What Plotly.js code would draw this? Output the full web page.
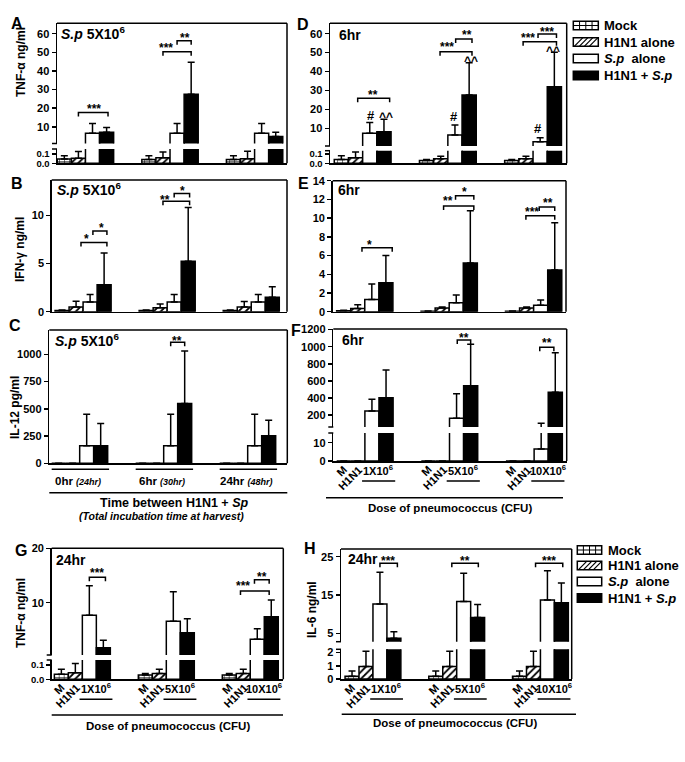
<!DOCTYPE html>
<html><head><meta charset="utf-8">
<script src="https://cdn.plot.ly/plotly-3.0.1.min.js"></script>
<style>body{margin:0;background:#fff}#chart{width:685px;height:762px}</style>
</head><body><div id="chart"></div>
<script>
// ---------------- DATA ----------------
const seriesNames = ['Mock', 'H1N1 alone', '<i>S.p</i>  alone', 'H1N1 + <i>S.p</i>'];
const times = ['0hr', '6hr', '24hr'];
const harvest = ['(24hr)', '(30hr)', '(48hr)'];
const doses = ['1X10<sup>6</sup>', '5X10<sup>6</sup>', '10X10<sup>6</sup>'];
const shortLabels = ['M', 'H1N1'];

// rows: Mock, H1N1 alone, S.p alone, H1N1+S.p ; columns: 3 groups ; *_top = mean + SD
const A_mean = [[0.045,0.04,0.04],[0.055,0.06,0.05],[6.5,6.5,6.5],[7,27.5,4.8]];
const A_top  = [[0.08,0.08,0.08],[0.125,0.12,0.13],[11.8,11.8,11.8],[9.6,44.7,7]];
const B_mean = [[0.12,0.12,0.12],[0.5,0.4,0.5],[1.0,1.0,1.0],[2.8,5.25,1.5]];
const B_top  = [[0.18,0.18,0.18],[1.1,0.8,1.05],[1.8,1.8,1.8],[6.1,10.85,2.6]];
const C_mean = [[0,0,0],[0,0,0],[160,160,160],[162,548,252]];
const C_top  = [[null,null,null],[null,null,null],[450,450,450],[365,1030,395]];
const D_mean = [[0.04,0.03,0.03],[0.06,0.05,0.05],[7.4,6.5,2.9],[8.2,27.6,32]];
const D_top  = [[0.08,0.04,0.04],[0.12,0.075,0.075],[13,11.8,5],[14.8,44.6,50.2]];
const E_mean = [[0.1,0.05,0.05],[0.35,0.4,0.4],[1.3,0.95,0.7],[3.1,5.2,4.45]];
const E_top  = [[0.15,0.08,0.08],[0.75,0.5,0.5],[2.95,1.78,1.25],[6.0,10.8,9.5]];
const F_mean = [[0,0,0],[0,0,0],[247,161,6.6],[403,543,466]];
const F_top  = [[null,null,null],[null,null,null],[384,449,103],[727,1028,929]];
const G_mean = [[0.035,0.03,0.03],[0.046,0.04,0.04],[7.7,6.6,3.3],[1.7,4.5,7.4]];
const G_top  = [[0.07,0.04,0.04],[0.11,0.07,0.07],[13.1,12,5.2],[3.1,7.05,10.5]];
const H_mean = [[0.2,0.2,0.2],[0.95,0.95,0.95],[12.65,13.3,13.7],[3.7,9.1,13]];
const H_top  = [[0.6,0.6,0.6],[2.1,2.1,2.1],[20.9,20.7,21.3],[5.4,12.5,18.1]];

// ---------------- LAYOUT / STYLE ----------------
const FONT = 'Arial, "Liberation Sans", Helvetica, sans-serif';
const W = 685, H = 762;
const X = p => p / W, Y = p => 1 - p / H;
const bold = (size) => ({family: FONT, size: size, color: '#000', weight: 'bold'});

const styles = [
  {color: '#fff', pattern: {shape: '+', fgcolor: '#000', bgcolor: '#fff', size: 5, solidity: 0.2}},
  {color: '#fff', pattern: {shape: '/', fgcolor: '#000', bgcolor: '#fff', size: 5, solidity: 0.35}},
  {color: '#fff'},
  {color: '#000'}
];

const panels = [
 {letter:'A', lp:[17,23], title:'<i>S.p</i> 5X10<sup>6</sup>', tp:[59,33], ytitle:'TNF-\u03b1 ng/ml', yp:[21,62],
  mean:A_mean, top:A_top, xd:[57,287], xr:[-0.02,16.3],
  segs:[{d:[23.3,143.5], r:[1.0,65.6], tv:[10,20,30,40,50,60]},
        {d:[149,163.3], r:[0,0.153], tv:[0,0.1], tt:['0.0','0.1']}],
  brackets:[[1.5,3.6,17.7],[7.5,9.5,50.3],[8.5,9.5,56.2]],
  stars:[['***',94,106],['***',165.7,45],['**',185.3,35]]},
 {letter:'B', lp:[17,184], title:'<i>S.p</i> 5X10<sup>6</sup>', tp:[55,189], ytitle:'IFN-\u03b3 ng/ml', yp:[20,250],
  mean:B_mean, top:B_top, xd:[51.7,287], xr:[-0.24,16.55],
  segs:[{d:[180,311.7], r:[0,13.7], tv:[0,5,10]}],
  brackets:[[1.85,3.7,7.2],[2.7,3.7,8.4],[7.7,9.6,11.5],[8.5,9.6,12.3]],
  stars:[['*',86,236],['*',101,225],['**',165,196.7],['*',182.3,188.3]]},
 {letter:'C', lp:[15,325], title:'<i>S.p</i> 5X10<sup>6</sup>', tp:[53,340], ytitle:'IL-12 pg/ml', yp:[15,408],
  mean:C_mean, top:C_top, xd:[49.3,287.3], xr:[-0.17,16.83],
  segs:[{d:[330,463.3], r:[0,1223], tv:[0,250,500,750,1000]}],
  brackets:[[8.5,9.5,1110]], stars:[['**',177.3,337.7]], times:true},
 {letter:'D', lp:[303,25], title:'6hr', tp:[337,35],
  mean:D_mean, top:D_top, xd:[330,566.7], xr:[-0.3,16.37],
  segs:[{d:[23.3,146], r:[0.64,65.5], tv:[10,20,30,40,50,60]},
        {d:[150.7,163.3], r:[0,0.135], tv:[0,0.1], tt:['0.0','0.1']}],
  brackets:[[1.65,3.9,25.9],[7.45,9.7,50.5],[8.55,9.7,57.2],[13.3,15.65,55.8],[14.35,15.65,59.8]],
  stars:[['**',373.3,91.7],['#',370.7,115],['^^',385.7,114],['***',446.7,44.3],['**',466.7,32.3],['#',454,116.7],
         ['^^',471,58.3],['***',528.3,35],['***',547.3,29],['#',538.3,128.3],['^^',553.3,48.3]]},
 {letter:'E', lp:[303,183], title:'6hr', tp:[336,190],
  mean:E_mean, top:E_top, xd:[332.7,566], xr:[-0.28,16.3],
  segs:[{d:[180.7,311.7], r:[0,14], tv:[0,2,4,6,8,10,12,14]}],
  brackets:[[1.8,3.95,6.84],[7.6,9.75,11.3],[8.45,9.75,12.4],[13.45,15.5,10.25],[14.4,15.5,11.2]],
  stars:[['*',369.3,241.7],['**',448.3,198.3],['*',465,189],['***',532.3,209],['**',548.3,200]]},
 {letter:'F', lp:[296,330], title:'6hr', tp:[340,340],
  mean:F_mean, top:F_top, xd:[333.3,566.7], xr:[-0.24,16.31],
  segs:[{d:[329,427], r:[59.5,1207], tv:[200,400,600,800,1000,1200]},
        {d:[433,461], r:[0,15.3], tv:[0,10]}],
  brackets:[[8.55,9.5,1078],[14.4,15.4,993]], stars:[['**',464,335],['**',547.3,340]],
  doses:true, line:[326,563,497.7], xtitle:[450.3,507.7]},
 {letter:'G', lp:[21,550], title:'24hr', tp:[54,560], ytitle:'TNF-\u03b1 ng/ml', yp:[21,613],
  mean:G_mean, top:G_top, xd:[51.7,283.3], xr:[-0.19,16.36],
  segs:[{d:[548.3,655], r:[0.39,20], tv:[10,20]},
        {d:[660,679.3], r:[0,0.135], tv:[0,0.1], tt:['0.0','0.1']}],
  brackets:[[2.5,3.65,14.7],[13.3,15.35,12.15],[14.3,15.35,14.2]],
  stars:[['***',97.3,570],['***',243.3,583.3],['**',262.3,574]],
  doses:true, line:[51.7,283,715], xtitle:[167.5,726]},
 {letter:'H', lp:[310,548], title:'24hr', tp:[346,559], ytitle:'IL-6 ng/ml', yp:[312,610],
  mean:H_mean, top:H_top, xd:[341,571.7], xr:[-0.29,16.24],
  segs:[{d:[549,641.7], r:[2.8,27], tv:[5,15,25]},
        {d:[649.3,679], r:[0,2.25], tv:[0,1,2]}],
  brackets:[[2.5,3.75,23.3],[7.65,9.55,23.3],[13.65,15.6,23.3]],
  stars:[['***',388.3,557.7],['**',465,557.7],['***',549.3,557.7]],
  doses:true, line:[341.7,576,714.3], xtitle:[455,722.7]}
];

// legend key blocks (pixel positions): icon left/right, text x, row centres
const legendBoxes = [
  {x0:573.3, x1:598.3, tx:602, rows:[25.5, 42, 58.5, 75.5]},
  {x0:577.3, x1:601.7, tx:606, rows:[550, 565.5, 581.5, 598]}
];

const layout = {
  width: W, height: H, margin: {l:0, r:0, t:0, b:0},
  paper_bgcolor: '#fff', plot_bgcolor: 'rgba(0,0,0,0)',
  barmode: 'overlay', showlegend: false, font: {family: FONT, color: '#000'},
  shapes: [], annotations: []
};
const traces = [];
const LW = 1.5;
const ln = (x0,y0,x1,y1,xref,yref,w) => ({type:'line', x0, y0, x1, y1, xref: xref||'paper', yref: yref||'paper',
  line:{color:'#000', width: w||LW}});
const ann = (text, x, y, size, extra) => Object.assign({text, x, y, xref:'paper', yref:'paper',
  showarrow:false, xanchor:'center', yanchor:'middle', font: bold(size)}, extra||{});

let xi = 0, yi = 0;
const groupIdx = [0, 1, 2];
panels.forEach(P => {
  xi++;
  const xRef = xi === 1 ? 'x' : 'x' + xi;
  const segIds = P.segs.map(() => ++yi);
  const yRefs = segIds.map(i => i === 1 ? 'y' : 'y' + i);
  const bottomPx = P.segs[P.segs.length-1].d[1];
  const topPx = P.segs[0].d[0];
  layout[xi === 1 ? 'xaxis' : 'xaxis' + xi] = {
    domain: [X(P.xd[0]), X(P.xd[1])], range: P.xr, anchor: yRefs[yRefs.length-1],
    showline: true, linewidth: LW, linecolor: '#000', showticklabels: false, ticks: '',
    showgrid: false, zeroline: false, fixedrange: true
  };
  P.segs.forEach((s, k) => {
    const yid = segIds[k];
    const small = P.segs.length > 1 && k === 1 && s.tt;
    const ax = {
      domain: [Y(s.d[1]), Y(s.d[0])], range: s.r, anchor: xRef,
      tickmode: 'array', tickvals: s.tv, ticks: 'outside', ticklen: 4, tickwidth: LW, tickcolor: '#000',
      showline: true, linewidth: LW, linecolor: '#000', showgrid: false, zeroline: false,
      tickfont: bold(small ? 9.5 : 11), fixedrange: true
    };
    if (s.tt) ax.ticktext = s.tt;
    layout[yid === 1 ? 'yaxis' : 'yaxis' + yid] = ax;
    for (let si = 0; si < 4; si++) {
      const err = P.mean[si].map((m, g) => P.top[si][g] == null ? NaN : P.top[si][g] - m);
      traces.push({
        type: 'bar', name: seriesNames[si], xaxis: xRef, yaxis: yRefs[k],
        x: groupIdx.map(g => g * 6 + si + 0.5), y: P.mean[si], width: 1,
        marker: Object.assign({line: {color: '#000', width: LW}}, styles[si]),
        error_y: {type: 'data', array: err, symmetric: false, arrayminus: [0,0,0],
                  color: '#000', thickness: LW, width: 3.5},
        showlegend: false, hoverinfo: 'skip'
      });
    }
  });
  // frame: top + right
  layout.shapes.push(ln(X(P.xd[0]), Y(topPx), X(P.xd[1]), Y(topPx)));
  layout.shapes.push(ln(X(P.xd[1]), Y(topPx), X(P.xd[1]), Y(bottomPx)));
  // axis break marks
  if (P.segs.length > 1) {
    const ub = P.segs[0].d[1], lt = P.segs[1].d[0];
    layout.shapes.push(ln(X(P.xd[0]-5), Y(ub), X(P.xd[0]), Y(ub)));
    layout.shapes.push(ln(X(P.xd[0]-5), Y(lt), X(P.xd[0]), Y(lt)));
  }
  // significance brackets (upper segment)
  const s0 = P.segs[0];
  const dUnit = 4 * (s0.r[1] - s0.r[0]) / (s0.d[1] - s0.d[0]);
  P.brackets.forEach(([a, b, h]) => {
    layout.shapes.push({type:'path', xref: xRef, yref: yRefs[0],
      path: `M ${a},${h-dUnit} L ${a},${h} L ${b},${h} L ${b},${h-dUnit}`,
      line: {color:'#000', width: LW}});
  });
  P.stars.forEach(([t, px, py]) => {
    const off = (t.indexOf('*') >= 0 || t.indexOf('^') >= 0) ? 3 : 0;
    layout.annotations.push(ann(t, X(px), Y(py + off), t === '#' ? 13 : 12));
  });
  // letters, inner titles, y titles
  layout.annotations.push(ann(P.letter, X(P.lp[0]), Y(P.lp[1]), 16));
  layout.annotations.push(ann(P.title, X(P.tp[0]), Y(P.tp[1]), 14, {xanchor:'left'}));
  if (P.ytitle) layout.annotations.push(ann(P.ytitle, X(P.yp[0]), Y(P.yp[1]), 12, {textangle:-90}));
  // dose labels
  if (P.doses) {
    groupIdx.forEach(g => {
      layout.annotations.push(Object.assign(ann(shortLabels[0], g*6+0.35, Y(bottomPx+10), 11, {textangle:-45}), {xref: xRef}));
      layout.annotations.push(Object.assign(ann(shortLabels[1], g*6+0.95, Y(bottomPx+17), 11, {textangle:-45}), {xref: xRef}));
      layout.annotations.push(Object.assign(ann(doses[g], g*6+2.95, Y(bottomPx+9), 11), {xref: xRef}));
      layout.shapes.push(ln(g*6+1.8, Y(bottomPx+20), g*6+4.15, Y(bottomPx+20), xRef, 'paper'));
    });
    layout.shapes.push(ln(X(P.line[0]), Y(P.line[2]), X(P.line[1]), Y(P.line[2])));
    layout.annotations.push(ann('Dose of pneumococcus (CFU)', X(P.xtitle[0]), Y(P.xtitle[1]), 11.5));
  }
  if (P.times) {
    groupIdx.forEach(g => {
      layout.shapes.push(ln(g*6, Y(469.3), g*6+4.1, Y(469.3), xRef, 'paper'));
      layout.annotations.push(Object.assign(ann(times[g] + ' <i><span style="font-size:9px">' + harvest[g] + '</span></i>',
        g*6+1.9, Y(480.7), 11.5), {xref: xRef}));
    });
    layout.shapes.push(ln(X(49.3), Y(492.7), X(287.3), Y(492.7)));
    layout.annotations.push(ann('Time between H1N1 + <i>Sp</i>', X(174), Y(502.7), 12.5));
    layout.annotations.push(ann('<i>(Total incubation time at harvest)</i>', X(161), Y(516), 10.5));
  }
});

// legend keys
legendBoxes.forEach(L => {
  const hh = 4.3;
  L.rows.forEach((cy, si) => {
    const y0 = cy - hh, y1 = cy + hh;
    layout.shapes.push({type:'rect', xref:'paper', yref:'paper', x0:X(L.x0), x1:X(L.x1), y0:Y(y1), y1:Y(y0),
      fillcolor: si === 3 ? '#000' : '#fff', line:{color:'#000', width:LW}});
    if (si === 0) {
      for (let k = 1; k < 4; k++) {
        const xx = L.x0 + (L.x1 - L.x0) * k / 4;
        layout.shapes.push(ln(X(xx), Y(y0), X(xx), Y(y1), null, null, 1));
      }
      layout.shapes.push(ln(X(L.x0), Y(cy), X(L.x1), Y(cy), null, null, 1));
    }
    if (si === 1) {
      const span = y1 - y0;
      for (let xx = L.x0 + 1; xx + span <= L.x1 + 0.5; xx += 5) {
        layout.shapes.push(ln(X(xx), Y(y1), X(xx + span), Y(y0), null, null, 1.2));
      }
    }
    layout.annotations.push(ann(seriesNames[si], X(L.tx), Y(cy), 13, {xanchor:'left'}));
  });
});

Plotly.newPlot('chart', traces, layout, {staticPlot: true, displayModeBar: false});
</script>
</body></html>
